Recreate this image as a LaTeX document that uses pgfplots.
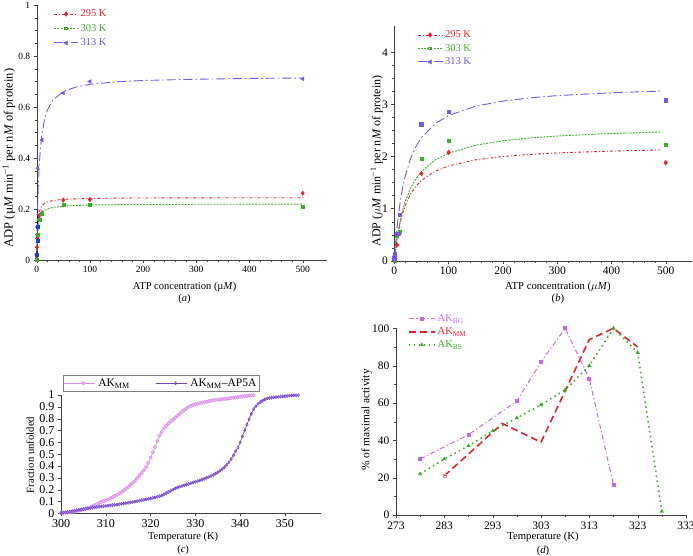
\documentclass[border=0pt]{standalone}
\usepackage{pgfplots}
\pgfplotsset{compat=1.18}
\usepackage{fontspec}
\setmainfont{Liberation Serif}
\definecolor{cR}{HTML}{E3222B}
\definecolor{cG}{HTML}{3DAE2B}
\definecolor{cP}{HTML}{7458EC}
\definecolor{cB}{HTML}{1E3FD0}
\definecolor{cLV}{HTML}{DA8CEA}
\definecolor{cLVf}{HTML}{F0C4F6}
\definecolor{cDV}{HTML}{7444CC}
\definecolor{cBG}{HTML}{C864EE}
\pgfplotsset{
  every axis/.append style={scale only axis, axis lines=left, axis line style={-, black!75},
    enlargelimits=false, tick align=outside, major tick length=3pt, minor tick length=2pt,
    tick style={black!75}, /pgf/number format/assume math mode=true, clip=false},
}
\begin{document}
\begin{tikzpicture}
\useasboundingbox (0pt,0pt) rectangle (693pt,-556pt);
% ---------------- (a)
\begin{axis}[at={(36.7pt,-260pt)}, anchor=south west, width=290pt, height=255pt,
  xmin=0, xmax=545, ymin=0, ymax=1,
  xtick={0,100,...,500}, minor x tick num=4,
  ytick={0,0.2,0.4,0.6,0.8,1}, yticklabels={0,0.2,0.4,0.6,0.8,1}, minor y tick num=3,
  tick label style={font=\fontsize{9.5}{10}\selectfont},
  xlabel={ATP concentration (µ\textit{M})\\(\textit{a})},
  xlabel style={align=center, at={(axis description cs:0.51,-0.129)}, anchor=center, font=\fontsize{10.5}{12.3}\selectfont},
  ylabel={ADP (µ\textit{M} min\textsuperscript{−1} per n\textit{M} of protein)},
  ylabel style={at={(axis description cs:-0.0955,0.4)}, anchor=center, font=\fontsize{12.5}{14}\selectfont},
  legend style={at={(axis description cs:0.058,0.99)}, anchor=north west, draw=none, fill=none,
    font=\fontsize{10.5}{12}\selectfont, row sep=2pt, inner sep=0pt},
  legend cell align=left,
  legend image code/.code={\draw[mark repeat=2,mark phase=2,#1] plot coordinates {(0pt,0pt) (12pt,0pt) (24pt,0pt)};},
]
\addlegendimage{cR, line width=0.9pt, dash pattern=on 3pt off 2pt on 1pt off 2pt, mark=diamond*, mark size=2pt, mark options={solid}}
\addlegendentry{\textcolor{cR}{295 K}}
\addlegendimage{cG, line width=0.9pt, dash pattern=on 2pt off 1.2pt, mark=square, mark size=1.3pt, mark options={solid}}
\addlegendentry{\textcolor{cG}{303 K}}
\addlegendimage{cP, line width=0.9pt, dash pattern=on 9pt off 3pt on 1.5pt off 3pt, mark=triangle*, mark size=2pt, mark options={solid, rotate=90}}
\addlegendentry{\textcolor{cP}{313 K}}
% fits
\addplot[forget plot, cR, line width=0.9pt, dash pattern=on 3pt off 2pt on 1pt off 2pt] coordinates {
(0,0)(0.5,0.061)(1,0.098)(2,0.140)(3,0.163)(5,0.188)(7,0.202)(10,0.213)(15,0.223)(20,0.228)(30,0.233)(50,0.238)(75,0.240)(100,0.241)(150,0.2426)(200,0.2432)(300,0.2438)(400,0.2441)(500,0.2443)};
\addplot[forget plot, cG, line width=0.9pt, dash pattern=on 2pt off 1.2pt] coordinates {
(0,0)(0.5,0.044)(1,0.073)(2,0.11)(3,0.132)(5,0.157)(7,0.171)(10,0.183)(15,0.194)(20,0.2)(30,0.206)(50,0.2115)(75,0.214)(100,0.2157)(150,0.217)(200,0.2178)(300,0.2185)(400,0.2189)(500,0.2191)};
\addplot[forget plot, cP, line width=0.9pt, dash pattern=on 9pt off 3pt on 1.5pt off 3pt] coordinates {
(0,0)(0.5,0.072)(1,0.131)(2,0.222)(3,0.288)(5,0.379)(7,0.438)(10,0.497)(15,0.554)(20,0.588)(30,0.626)(50,0.661)(75,0.679)(100,0.689)(150,0.699)(200,0.704)(300,0.709)(400,0.712)(500,0.7136)};
\addplot[forget plot, black, dashed, line width=0.8pt] coordinates {(0,0)(2,0.2)};
% points
\addplot[forget plot, only marks, cR, mark=diamond*, mark size=2.2pt] coordinates {
(0,0.005)(0.5,0.05)(1,0.085)(5,0.175)(10,0.185)(50,0.235)(100,0.237)(500,0.262)};
\addplot[forget plot, only marks, cG, mark=square*, mark size=1.5pt] coordinates {
(0,0.003)(2,0.1)(5,0.16)(10,0.18)(50,0.218)(100,0.217)(500,0.21)};
\addplot[forget plot, only marks, cP, mark=triangle*, mark size=2.2pt, mark options={rotate=90}] coordinates {
(0,0.02)(1,0.13)(2,0.36)(10,0.47)(50,0.655)(100,0.70)(500,0.71)};
\addplot[forget plot, only marks, cB, mark=square*, mark size=1.5pt] coordinates {(0.5,0.022)(1,0.075)(1.5,0.132)};
\end{axis}
% ---------------- (b)
\begin{axis}[at={(394.3pt,-260.7pt)}, anchor=south west, width=297.5pt, height=234.5pt,
  xmin=0, xmax=548, ymin=0, ymax=4.5,
  xtick={0,100,...,500}, minor x tick num=4,
  ytick={0,1,2,3,4}, minor y tick num=3,
  tick label style={font=\fontsize{11.5}{12}\selectfont},
  xlabel={ATP concentration ($\mu$\textit{M})\\(\textit{b})},
  xlabel style={align=center, at={(axis description cs:0.55,-0.138)}, anchor=center, font=\fontsize{10.7}{12.3}\selectfont},
  ylabel={ADP ($\mu$\textit{M} min\textsuperscript{−1} per n\textit{M} of protein)},
  ylabel style={at={(axis description cs:-0.059,0.425)}, anchor=center, font=\fontsize{12}{14}\selectfont},
  legend style={at={(axis description cs:0.076,0.99)}, anchor=north west, draw=none, fill=none,
    font=\fontsize{10.5}{12}\selectfont, row sep=1pt, inner sep=0pt},
  legend cell align=left,
  legend image code/.code={\draw[mark repeat=2,mark phase=2,#1] plot coordinates {(0pt,0pt) (12.5pt,0pt) (25pt,0pt)};},
]
\addlegendimage{cR, line width=0.9pt, dash pattern=on 3pt off 2pt on 1pt off 2pt, mark=diamond*, mark size=2pt, mark options={solid}}
\addlegendentry{\textcolor{cR}{295 K}}
\addlegendimage{cG, line width=0.9pt, dash pattern=on 2pt off 1.2pt, mark=square, mark size=1.3pt, mark options={solid}}
\addlegendentry{\textcolor{cG}{303 K}}
\addlegendimage{cP, line width=0.9pt, dash pattern=on 9pt off 3pt on 1.5pt off 3pt, mark=triangle*, mark size=2pt, mark options={solid, rotate=90}}
\addlegendentry{\textcolor{cP}{313 K}}
\addplot[forget plot, cR, line width=0.9pt, dash pattern=on 3pt off 2pt on 1pt off 2pt] coordinates {
(0,0)(1,0.0965)(2,0.185)(5,0.411)(10,0.694)(15,0.9)(20,1.057)(30,1.281)(40,1.432)(50,1.542)(75,1.716)(100,1.82)(150,1.936)(200,2.0)(250,2.040)(300,2.068)(400,2.104)(490,2.125)};
\addplot[forget plot, cG, line width=0.9pt, dash pattern=on 2pt off 1.2pt] coordinates {
(0,0)(1,0.096)(2,0.186)(5,0.419)(10,0.722)(15,0.951)(20,1.130)(30,1.393)(40,1.576)(50,1.711)(75,1.931)(100,2.063)(150,2.216)(200,2.301)(250,2.355)(300,2.393)(400,2.441)(490,2.469)};
\addplot[forget plot, cP, line width=0.9pt, dash pattern=on 9pt off 3pt on 1.5pt off 3pt] coordinates {
(0,0)(1,0.148)(2,0.283)(5,0.630)(10,1.063)(15,1.378)(20,1.619)(30,1.962)(40,2.194)(50,2.361)(75,2.629)(100,2.787)(150,2.965)(200,3.063)(250,3.125)(300,3.168)(400,3.223)(490,3.254)};
\addplot[forget plot, only marks, cR, mark=diamond*, mark size=2.4pt] coordinates {
(0,0.02)(1,0.1)(5,0.3)(10,0.52)(50,1.67)(100,2.08)(500,1.88)};
\addplot[forget plot, only marks, cG, mark=square*, mark size=1.6pt] coordinates {
(0,0.01)(1,0.06)(5,0.48)(10,0.55)(50,1.95)(100,2.3)(500,2.23)};
\addplot[forget plot, only marks, cP, mark=square*, mark size=1.8pt] coordinates {
(0,0.05)(1,0.12)(5,0.52)(10,0.88)(50,2.62)(100,2.86)(500,3.08)};
\end{axis}
% ---------------- (c)
\begin{axis}[at={(61pt,-513.3pt)}, anchor=south west, width=259.8pt, height=118.3pt,
  xmin=300, xmax=358, ymin=0, ymax=1,
  xtick={300,310,...,350},
  ytick={0,0.1,...,1}, yticklabels={0,0.1,0.2,0.3,0.4,0.5,0.6,0.7,0.8,0.9,1},
  tick label style={font=\fontsize{12}{13}\selectfont},
  xlabel={Temperature (K)\\(\textit{c})},
  xlabel style={align=center, at={(axis description cs:0.47,-0.254)}, anchor=center, font=\fontsize{10.5}{13.3}\selectfont},
  ylabel={Fraction unfolded},
  ylabel style={at={(axis description cs:-0.119,0.493)}, anchor=center, font=\fontsize{10.7}{12}\selectfont},
  legend columns=2,
  legend style={at={(axis description cs:0.006,1.034)}, anchor=south west, draw=black!50, fill=white,
    font=\fontsize{11.5}{12}\selectfont, inner sep=1pt,
    /tikz/every odd column/.append style={column sep=1pt},
    /tikz/every even column/.append style={column sep=24pt}},
  legend cell align=left,
  legend image code/.code={\path (0pt,0pt) -- (31pt,0pt); \draw[mark repeat=2,mark phase=2,#1] plot coordinates {(8pt,0pt) (19.5pt,0pt) (31pt,0pt)};},
]
\addplot[cLV, line width=0.6pt, mark=*, mark size=1.7pt, mark options={fill=cLVf, draw=cLV}] coordinates {
(300,0.000)(300.5,0.002)(301,0.004)(301.5,0.006)(302,0.009)(302.5,0.012)(303,0.014)(303.5,0.018)(304,0.022)(304.5,0.027)
(305,0.032)(305.5,0.037)(306,0.042)(306.5,0.050)(307,0.058)(307.5,0.068)(308,0.078)(308.5,0.088)(309,0.096)(309.5,0.102)
(310,0.108)(310.5,0.117)(311,0.126)(311.5,0.136)(312,0.146)(312.5,0.157)(313,0.168)(313.5,0.180)(314,0.193)(314.5,0.207)
(315,0.222)(315.5,0.238)(316,0.255)(316.5,0.275)(317,0.297)(317.5,0.318)(318,0.340)(318.5,0.362)(319,0.390)(319.5,0.425)
(320,0.470)(320.5,0.515)(321,0.560)(321.5,0.610)(322,0.655)(322.5,0.690)(323,0.720)(323.5,0.740)(324,0.760)(324.5,0.777)
(325,0.793)(325.5,0.810)(326,0.825)(326.5,0.842)(327,0.858)(327.5,0.873)(328,0.888)(328.5,0.900)(329,0.908)(329.5,0.915)
(330,0.920)(330.5,0.926)(331,0.931)(331.5,0.935)(332,0.940)(332.5,0.944)(333,0.948)(333.5,0.952)(334,0.955)(334.5,0.958)
(335,0.961)(335.5,0.963)(336,0.965)(336.5,0.967)(337,0.969)(337.5,0.971)(338,0.974)(338.5,0.977)(339,0.980)(339.5,0.982)
(340,0.985)(340.5,0.988)(341,0.990)(341.5,0.993)(342,0.995)(342.5,0.997)(343,0.999)};
\addlegendentry{AK\textsubscript{MM}}
\addplot[cDV, line width=0.6pt, mark=diamond, mark size=1.5pt, mark options={fill=white, draw=cDV}] coordinates {
(300,0.004)(300.5,0.006)(301,0.009)(301.5,0.012)(302,0.015)(302.5,0.018)(303,0.022)(303.5,0.026)(304,0.030)(304.5,0.033)
(305,0.036)(305.5,0.039)(306,0.042)(306.5,0.045)(307,0.048)(307.5,0.050)(308,0.053)(308.5,0.055)(309,0.058)(309.5,0.060)
(310,0.062)(310.5,0.065)(311,0.067)(311.5,0.069)(312,0.072)(312.5,0.074)(313,0.077)(313.5,0.080)(314,0.083)(314.5,0.086)
(315,0.089)(315.5,0.092)(316,0.095)(316.5,0.099)(317,0.102)(317.5,0.106)(318,0.110)(318.5,0.114)(319,0.118)(319.5,0.122)
(320,0.126)(320.5,0.130)(321,0.134)(321.5,0.139)(322,0.145)(322.5,0.151)(323,0.160)(323.5,0.170)(324,0.180)(324.5,0.190)
(325,0.200)(325.5,0.210)(326,0.218)(326.5,0.225)(327,0.231)(327.5,0.237)(328,0.242)(328.5,0.248)(329,0.254)(329.5,0.260)
(330,0.266)(330.5,0.272)(331,0.278)(331.5,0.284)(332,0.292)(332.5,0.300)(333,0.308)(333.5,0.316)(334,0.325)(334.5,0.335)
(335,0.347)(335.5,0.360)(336,0.374)(336.5,0.390)(337,0.410)(337.5,0.432)(338,0.460)(338.5,0.490)(339,0.525)(339.5,0.555)
(340,0.600)(340.5,0.650)(341,0.700)(341.5,0.750)(342,0.795)(342.5,0.840)(343,0.880)(343.5,0.905)(344,0.925)(344.5,0.940)
(345,0.952)(345.5,0.962)(346,0.970)(346.5,0.975)(347,0.978)(347.5,0.980)(348,0.982)(348.5,0.984)(349,0.986)(349.5,0.988)
(350,0.990)(350.5,0.992)(351,0.994)(351.5,0.996)(352,0.997)(352.5,0.998)(353,0.999)};
\addlegendentry{AK\textsubscript{MM}–AP5A}
\end{axis}
% ---------------- (d)
\begin{axis}[at={(396pt,-515pt)}, anchor=south west, width=290pt, height=186.7pt,
  xmin=273, xmax=333, ymin=0, ymax=100,
  xtick={273,283,...,333}, minor x tick num=1,
  ytick={0,20,...,100}, minor y tick num=1,
  tick label style={font=\fontsize{11.5}{12}\selectfont},
  xlabel={Temperature (K)\\(\textit{d})},
  xlabel style={align=center, at={(axis description cs:0.507,-0.155)}, anchor=center, font=\fontsize{10.7}{14}\selectfont},
  ylabel={\% of maximal activity},
  ylabel style={at={(axis description cs:-0.101,0.509)}, anchor=center, font=\fontsize{11.4}{12}\selectfont},
  legend style={at={(axis description cs:0.041,1.085)}, anchor=north west, draw=none, fill=none,
    font=\fontsize{10.5}{11}\selectfont, row sep=0.5pt, inner sep=0pt},
  legend cell align=left,
  legend image code/.code={\draw[mark repeat=2,mark phase=2,#1] plot coordinates {(0pt,0pt) (13pt,0pt) (26pt,0pt)};},
]
\addplot[cBG, line width=1pt, dash pattern=on 5pt off 2.5pt on 1.2pt off 2.5pt, mark=square*, mark size=1.5pt, mark options={solid}] coordinates {
(278,30)(288,43)(298,61)(303,82)(308,100)(313,73)(318,16)};
\addlegendentry{\textcolor{cBG}{AK\textsubscript{BG}}}
\addplot[cR, line width=1.6pt, dash pattern=on 7pt off 4pt] coordinates {
(283,21)(295,49)(303,39)(313,94)(318,100)(323,90)};
\addlegendentry{\textcolor{cR}{AK\textsubscript{MM}}}
\addplot[cG, line width=1.6pt, dash pattern=on 1.5pt off 3.5pt, mark=triangle*, mark size=0.9pt, mark options={solid}] coordinates {
(278,22)(283,30)(288,37)(293,45)(298,52)(303,59)(308,67)(313,80)(318,100)(323,87)(328,2)};
\addlegendentry{\textcolor{cG}{AK\textsubscript{BS}}}
\addplot[forget plot, only marks, mark=square, mark size=1.5pt, cR!45] coordinates {(283,21)};
\end{axis}
\end{tikzpicture}
\end{document}
